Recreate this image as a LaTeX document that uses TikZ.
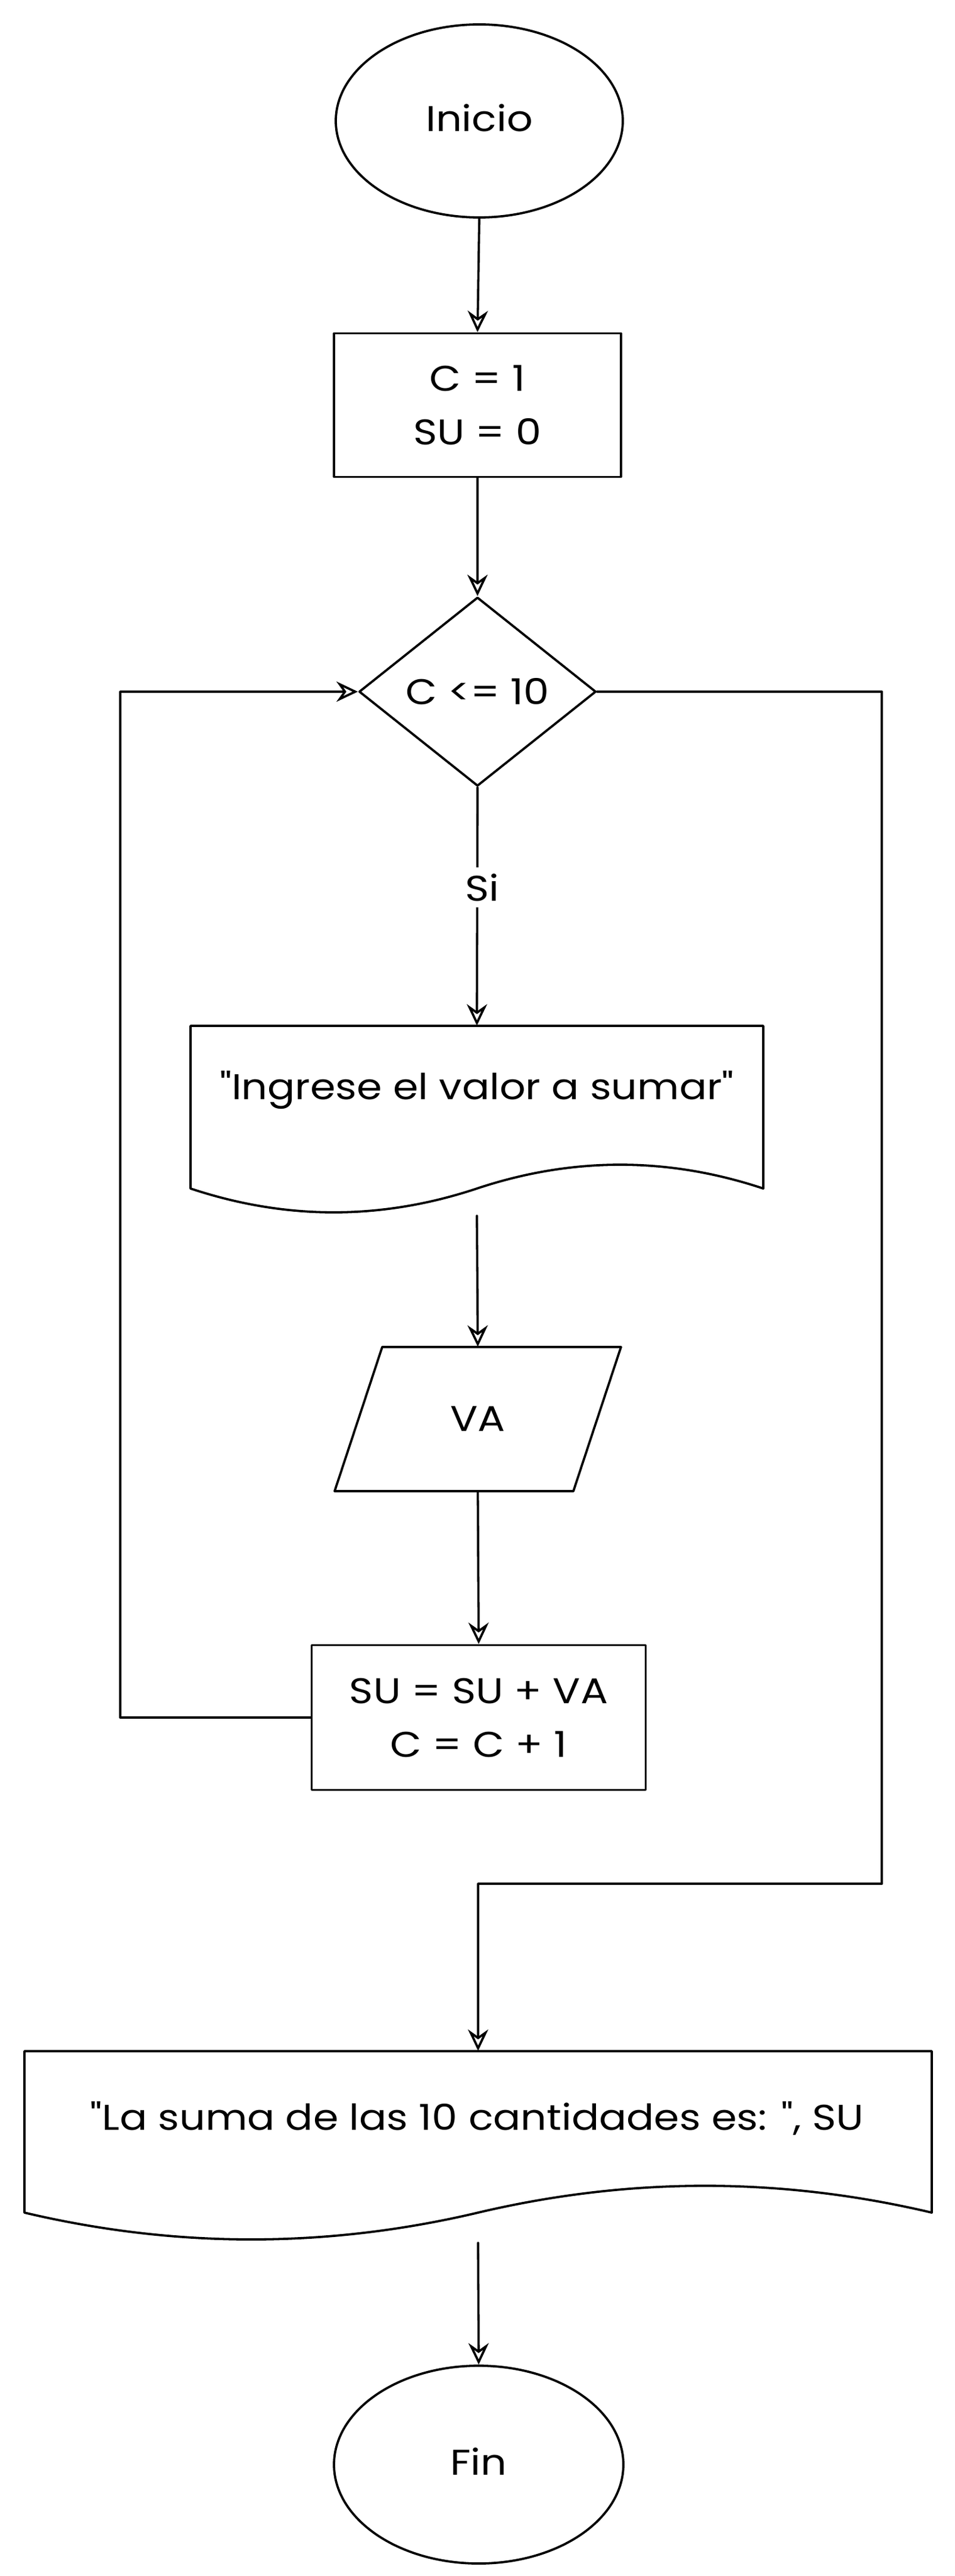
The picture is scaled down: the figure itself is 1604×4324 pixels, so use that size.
\documentclass[tikz,border=0pt]{standalone}
\usepackage{fontspec}
\setmainfont{Poppins}[Ligatures=TeXOff, FakeStretch=1.14]
\usetikzlibrary{shapes.geometric,arrows.meta}
\begin{document}
\begin{tikzpicture}[x=0.5pt,y=-0.5pt,
  every node/.style={font=\fontsize{30pt}{45pt}\selectfont, align=center, inner sep=0pt},
  line/.style={line width=1.9pt, line join=round, line cap=round},
  arr/.style={line, -{Stealth[open, length=18pt, width=17pt, inset=6pt, line width=1.9pt]}},
  term/.style={ellipse, draw, line, minimum width=241pt, minimum height=162pt},
  proc/.style={rectangle, draw, line},
  dec/.style={diamond, draw, line, minimum width=199pt, minimum height=158.5pt},
  box/.style={rectangle},
  lbl/.style={fill=white, inner sep=5pt}
]
\fill[white] (0,0) rectangle (1604,4324);
\useasboundingbox (0,0) rectangle (1604,4324);

% nodes
\node[term] (inicio) at (805,203) {\raisebox{5pt}{Inicio}};
\node[proc, minimum width=241pt, minimum height=120.5pt] (init) at (802,680) {C = 1\\SU = 0};
\node[dec] (cond) at (802,1161) {C <= 10};
\node[box, minimum width=481pt, minimum height=159pt] (doc1) at (801,1881) {};
\node (doc1t) at (801,1830) {"Ingrese el valor a sumar"};
\node[box, minimum width=240.5pt, minimum height=121pt] (va) at (802.5,2382) {VA};
\node[proc, minimum width=280.5pt, minimum height=121.5pt] (su) at (804,2883) {SU = SU + VA\\C = C + 1};
\node[box, minimum width=762pt, minimum height=160.5pt] (doc2) at (803,3603.5) {};
\node (doc2t) at (801,3556) {"La suma de las 10 cantidades es: ", SU};
\node[term, minimum width=243pt, minimum height=166pt] (fin) at (804,4137) {\raisebox{5pt}{Fin}};

% shapes drawn directly
\draw[line] (320,1722) -- (1282,1722) -- (1282,1995)
  .. controls (1121.7,1941.7) and (961.3,1941.7) .. (801,1995)
  .. controls (640.7,2048.3) and (480.3,2048.3) .. (320,1995) -- cycle;
\draw[line] (642,2261) -- (1043,2261) -- (963,2503) -- (562,2503) -- cycle;
\draw[line] (41,3443) -- (1565,3443) -- (1565,3714)
  .. controls (1311,3654) and (1057,3654) .. (803,3714)
  .. controls (549,3774) and (295,3774) .. (41,3714) -- cycle;

% connectors
\coordinate (lp) at (202,1161);
\coordinate (r1) at (1481,3162);
\draw[arr] (inicio.south) -- (init.north);
\draw[arr] (init.south) -- (cond.north);
\draw[arr] (cond.south) -- node[lbl, pos=0.42, xshift=4pt] {Si} (doc1.north);
\draw[arr] (doc1.south) -- (va.north);
\draw[arr] (va.south) -- (su.north);
\draw[arr] (su.west) -| (lp) -- (cond.west);
\draw[arr] (cond.east) -| (r1) -| (doc2.north);
\draw[arr] (doc2.south) -- (fin.north);
\end{tikzpicture}
\end{document}
